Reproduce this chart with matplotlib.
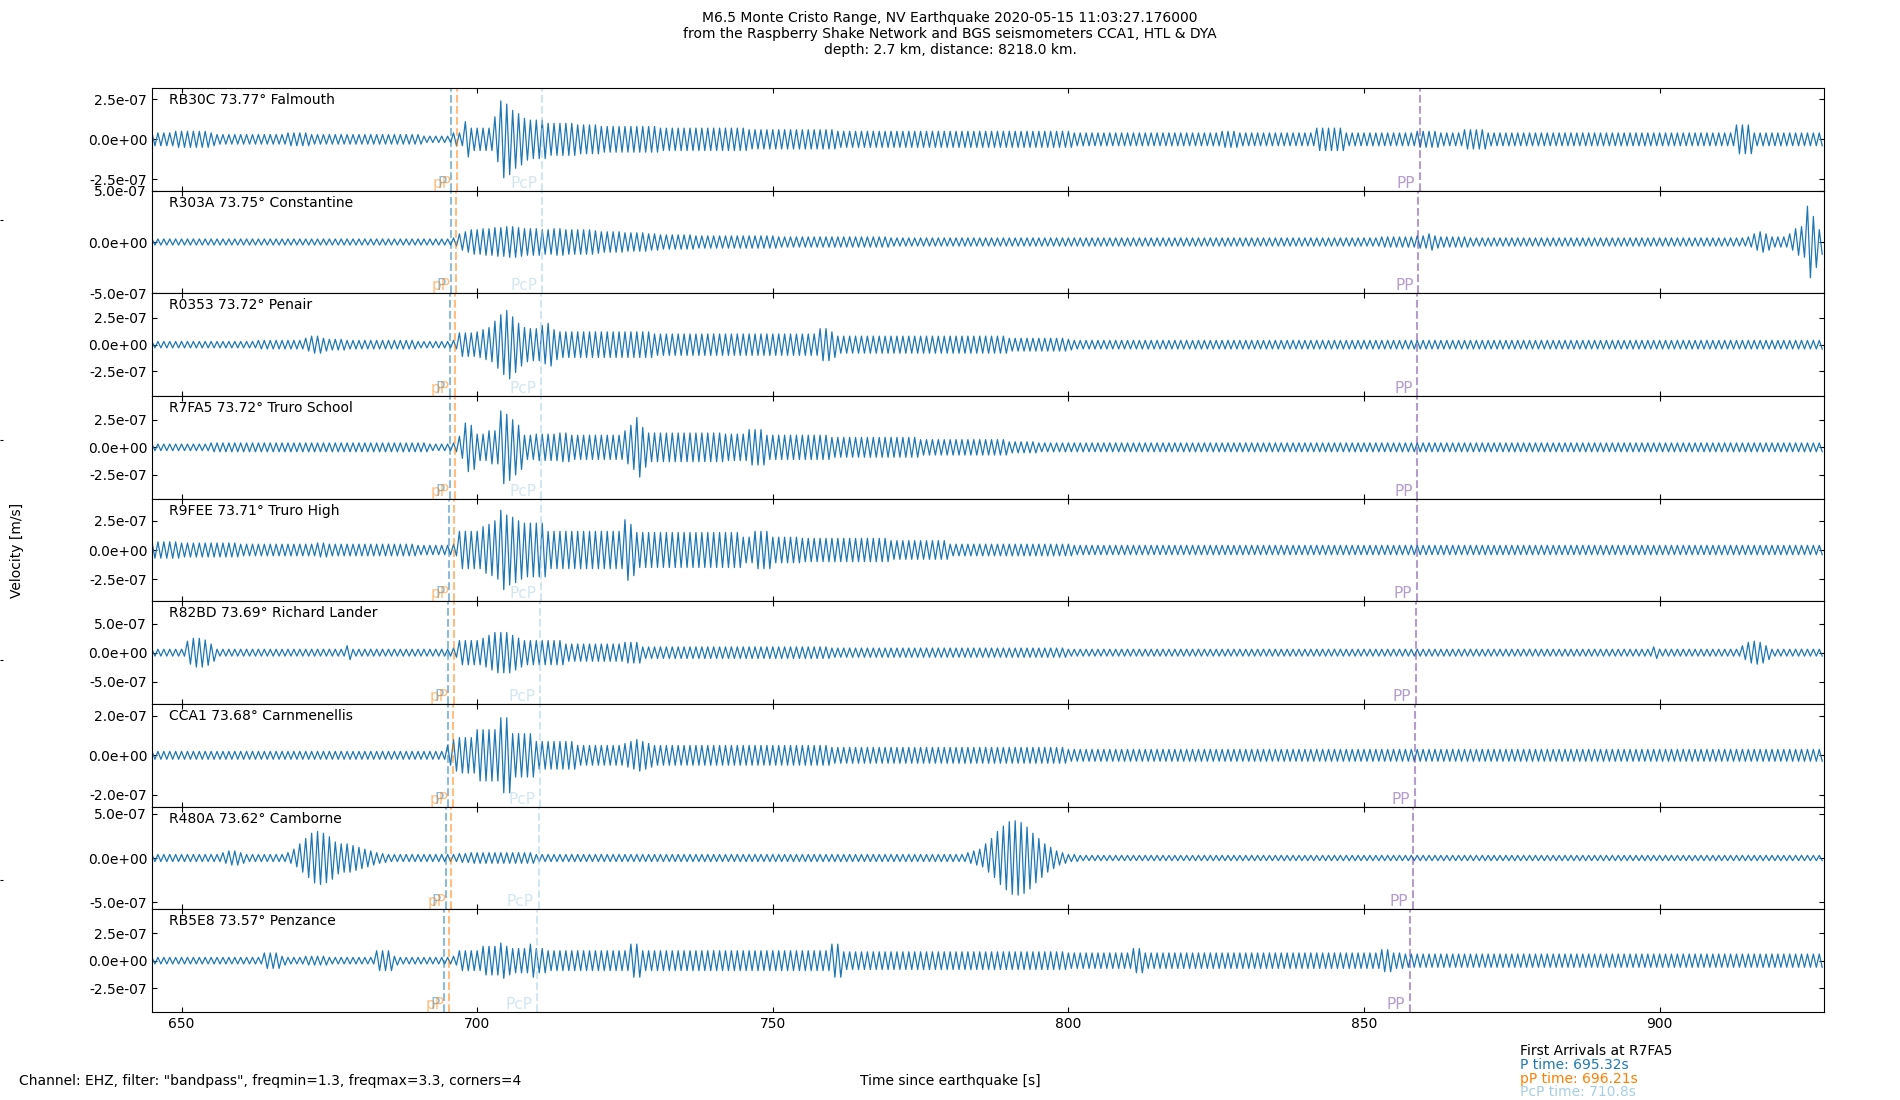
import numpy as np
import matplotlib
matplotlib.use("Agg")
import matplotlib.pyplot as plt
from matplotlib.ticker import FormatStrFormatter

plt.rcParams.update({'font.size': 10,
                     'xtick.direction': 'in',
                     'ytick.direction': 'in'})

# stations, top to bottom
stations = ['RB30C', 'R303A', 'R0353', 'R7FA5', 'R9FEE', 'R82BD', 'CCA1', 'R480A', 'RB5E8']
distances = [73.77, 73.75, 73.72, 73.72, 73.71, 73.69, 73.68, 73.62, 73.57]
places = ['Falmouth', 'Constantine', 'Penair', 'Truro School', 'Truro High',
          'Richard Lander', 'Carnmenellis', 'Camborne', 'Penzance']

# arrival times [s since origin] per station
p_times = [695.62, 695.50, 695.32, 695.32, 695.26, 695.14, 695.08, 694.72, 694.42]
pP_times = [696.51, 696.39, 696.21, 696.21, 696.15, 696.03, 695.97, 695.61, 695.31]
pcp_times = [711.0, 710.92, 710.8, 710.8, 710.76, 710.68, 710.64, 710.4, 710.2]
pp_times = [859.4, 859.2, 859.0, 859.0, 858.9, 858.75, 858.65, 858.2, 857.75]

# y ranges and ticks of each panel [m/s]
ylims = [3.2e-7, 5.02e-7, 4.8e-7, 4.65e-7, 4.4e-7, 8.9e-7, 2.6e-7, 5.8e-7, 4.65e-7]
ytick_steps = [2.5e-7, 5e-7, 2.5e-7, 2.5e-7, 2.5e-7, 5e-7, 2e-7, 5e-7, 2.5e-7]

# filtered traces, read off as max |amplitude| per 1 s bin, units 1e-8 m/s
# first bin starts at T0
T0 = 645
env_RB30C = [
    4, 4, 4, 4, 5, 5, 5, 5, 5, 5, 4, 3, 3, 3, 3, 3, 3, 3, 3, 3,
    3, 3, 3, 4, 4, 4, 4, 3, 3, 3, 3, 3, 3, 3, 3, 3, 3, 3, 3, 3,
    3, 3, 3, 3, 3, 3, 2, 2, 2, 2, 2, 4, 4, 11, 7, 7, 7, 7, 14, 24,
    22, 18, 16, 13, 12, 12, 12, 10, 10, 10, 10, 10, 9, 9, 9, 9, 8, 8, 8, 8,
    8, 8, 8, 8, 8, 8, 7, 7, 7, 7, 7, 7, 7, 7, 7, 7, 7, 7, 7, 7,
    7, 6, 6, 6, 6, 6, 6, 6, 6, 6, 6, 6, 6, 6, 6, 6, 5, 5, 5, 5,
    5, 5, 5, 5, 5, 5, 5, 5, 5, 5, 5, 5, 5, 5, 5, 5, 5, 5, 5, 5,
    5, 5, 5, 5, 5, 5, 5, 5, 5, 5, 5, 5, 5, 5, 5, 5, 4, 4, 4, 4,
    4, 4, 4, 4, 4, 4, 4, 4, 4, 4, 4, 4, 4, 4, 4, 4, 4, 4, 4, 4,
    4, 5, 5, 5, 4, 4, 4, 4, 4, 4, 4, 4, 4, 4, 4, 4, 4, 7, 7, 7,
    7, 7, 4, 4, 4, 4, 4, 4, 4, 4, 4, 4, 4, 4, 5, 5, 5, 5, 4, 4,
    4, 4, 6, 6, 6, 6, 4, 4, 4, 4, 4, 4, 4, 4, 4, 4, 4, 4, 4, 4,
    4, 4, 4, 4, 4, 4, 4, 4, 4, 4, 4, 4, 4, 4, 4, 4, 4, 4, 4, 4,
    4, 4, 4, 4, 4, 4, 4, 4, 9, 9, 9, 4, 4, 4, 4, 4, 4, 4, 4, 4,
    4, 4, 4]
env_R303A = [
    3, 3, 3, 3, 3, 3, 3, 3, 3, 3, 3, 3, 3, 3, 3, 3, 3, 3, 3, 3,
    3, 3, 3, 3, 3, 3, 3, 3, 3, 3, 3, 3, 3, 3, 3, 3, 3, 3, 3, 3,
    3, 3, 3, 3, 3, 3, 3, 3, 3, 3, 3, 4, 8, 10, 12, 12, 13, 13, 14, 14,
    15, 15, 14, 13, 13, 13, 12, 12, 13, 13, 12, 12, 12, 12, 12, 11, 10, 10, 10, 10,
    9, 9, 9, 9, 8, 8, 7, 7, 7, 7, 7, 7, 6, 6, 6, 6, 6, 6, 6, 6,
    6, 6, 6, 6, 6, 6, 5, 5, 5, 5, 5, 5, 5, 5, 5, 5, 5, 5, 5, 5,
    5, 5, 5, 5, 5, 4, 4, 4, 4, 4, 4, 4, 4, 4, 4, 4, 4, 4, 4, 4,
    4, 4, 4, 4, 4, 4, 4, 4, 4, 4, 4, 4, 4, 4, 4, 4, 4, 4, 4, 4,
    4, 4, 4, 4, 4, 4, 4, 4, 4, 4, 4, 4, 4, 4, 4, 4, 4, 4, 4, 4,
    4, 4, 4, 4, 4, 4, 4, 4, 4, 4, 4, 4, 4, 4, 4, 4, 4, 4, 4, 4,
    4, 4, 4, 4, 4, 4, 4, 4, 5, 5, 5, 5, 5, 5, 6, 6, 8, 6, 5, 5,
    5, 5, 5, 4, 4, 4, 4, 4, 4, 4, 4, 4, 4, 4, 4, 4, 4, 4, 4, 4,
    4, 4, 4, 4, 4, 4, 4, 4, 4, 4, 4, 4, 4, 4, 4, 4, 4, 4, 4, 4,
    4, 4, 4, 4, 4, 4, 4, 4, 4, 4, 5, 8, 10, 8, 5, 5, 5, 8, 13, 15,
    35, 25, 12]
env_R0353 = [
    3, 3, 3, 3, 3, 3, 3, 3, 3, 3, 3, 3, 3, 3, 3, 3, 3, 3, 4, 4,
    4, 4, 4, 4, 4, 4, 6, 8, 8, 6, 5, 5, 5, 4, 4, 4, 4, 4, 4, 4,
    4, 4, 4, 4, 4, 3, 3, 3, 3, 3, 3, 4, 11, 11, 11, 12, 14, 16, 22, 28,
    32, 26, 20, 16, 15, 15, 18, 20, 14, 12, 12, 12, 12, 12, 12, 12, 12, 12, 12, 12,
    12, 12, 12, 12, 12, 10, 10, 10, 10, 10, 10, 10, 10, 10, 10, 10, 10, 10, 10, 10,
    10, 10, 10, 10, 10, 10, 10, 10, 10, 10, 10, 10, 10, 15, 15, 12, 8, 8, 8, 8,
    8, 8, 8, 8, 8, 8, 8, 8, 8, 8, 8, 8, 8, 8, 8, 8, 8, 8, 8, 8,
    8, 8, 8, 8, 8, 6, 6, 6, 6, 6, 6, 6, 6, 6, 6, 5, 4, 4, 4, 4,
    4, 4, 4, 4, 4, 4, 4, 4, 4, 4, 4, 4, 4, 4, 4, 4, 4, 4, 4, 4,
    4, 4, 4, 4, 4, 4, 4, 4, 4, 4, 4, 4, 4, 4, 4, 4, 4, 4, 4, 4,
    4, 4, 4, 4, 4, 4, 4, 4, 4, 4, 4, 4, 4, 4, 4, 4, 4, 4, 4, 4,
    4, 4, 4, 4, 4, 4, 4, 4, 4, 4, 4, 4, 4, 4, 4, 4, 4, 4, 4, 4,
    4, 4, 4, 4, 4, 4, 4, 4, 4, 4, 4, 4, 4, 4, 4, 4, 4, 4, 4, 4,
    4, 4, 4, 4, 4, 4, 4, 4, 4, 4, 4, 4, 4, 4, 4, 4, 4, 4, 4, 4,
    4, 4, 4]
env_R7FA5 = [
    3, 3, 3, 3, 3, 3, 3, 3, 3, 3, 4, 4, 4, 4, 4, 4, 4, 4, 4, 4,
    4, 4, 4, 4, 4, 4, 4, 4, 4, 4, 4, 4, 4, 4, 4, 4, 4, 4, 4, 4,
    4, 4, 4, 4, 4, 4, 4, 3, 3, 3, 3, 4, 10, 22, 20, 12, 12, 15, 15, 33,
    30, 25, 20, 11, 11, 12, 12, 12, 12, 13, 13, 11, 11, 11, 11, 11, 11, 11, 11, 11,
    15, 20, 27, 18, 13, 13, 13, 13, 13, 13, 13, 13, 13, 13, 13, 13, 13, 12, 12, 12,
    12, 16, 16, 16, 11, 11, 11, 11, 11, 11, 11, 11, 11, 11, 11, 9, 9, 9, 9, 9,
    9, 9, 9, 9, 9, 9, 9, 9, 9, 9, 7, 7, 7, 7, 7, 7, 7, 7, 7, 7,
    7, 7, 7, 7, 7, 5, 5, 5, 5, 5, 4, 4, 4, 4, 4, 4, 4, 4, 4, 4,
    4, 4, 4, 4, 4, 4, 4, 4, 4, 4, 4, 4, 4, 4, 4, 4, 4, 4, 4, 4,
    4, 4, 4, 4, 4, 4, 4, 4, 4, 4, 4, 4, 4, 4, 4, 4, 4, 4, 4, 4,
    4, 4, 4, 4, 4, 4, 4, 4, 4, 4, 4, 4, 4, 4, 4, 4, 4, 4, 4, 4,
    4, 4, 4, 4, 4, 4, 4, 4, 4, 4, 4, 4, 4, 4, 4, 4, 4, 4, 4, 4,
    4, 4, 4, 4, 4, 4, 4, 4, 4, 4, 4, 4, 4, 4, 4, 4, 4, 4, 4, 4,
    4, 4, 4, 4, 4, 4, 4, 4, 4, 4, 4, 4, 4, 4, 4, 4, 4, 4, 4, 4,
    4, 4, 4]
env_R9FEE = [
    7, 7, 7, 7, 7, 6, 6, 6, 6, 6, 6, 6, 6, 6, 6, 5, 5, 5, 5, 5,
    5, 5, 5, 5, 5, 5, 5, 5, 6, 6, 5, 5, 5, 5, 5, 5, 5, 5, 5, 5,
    5, 5, 5, 5, 5, 4, 4, 4, 4, 4, 4, 5, 16, 16, 16, 16, 20, 22, 25, 34,
    30, 28, 25, 23, 23, 23, 23, 16, 16, 16, 16, 16, 16, 16, 16, 16, 16, 16, 16, 16,
    26, 22, 15, 15, 15, 15, 15, 15, 15, 15, 15, 15, 15, 15, 15, 15, 15, 15, 15, 15,
    11, 11, 16, 16, 16, 11, 11, 11, 11, 11, 10, 10, 10, 10, 10, 10, 10, 10, 10, 10,
    10, 10, 10, 10, 10, 8, 8, 8, 8, 8, 8, 8, 8, 8, 8, 5, 5, 5, 5, 5,
    5, 5, 5, 5, 5, 5, 5, 5, 5, 5, 5, 5, 5, 5, 5, 5, 4, 4, 4, 4,
    4, 4, 4, 4, 4, 4, 4, 4, 4, 4, 4, 4, 4, 4, 4, 4, 4, 4, 4, 4,
    4, 4, 4, 4, 4, 4, 4, 4, 4, 4, 4, 4, 4, 4, 4, 4, 4, 4, 4, 4,
    4, 4, 4, 4, 4, 4, 4, 4, 4, 4, 4, 4, 4, 4, 4, 4, 4, 4, 4, 4,
    4, 4, 4, 4, 4, 4, 4, 4, 4, 4, 4, 4, 4, 4, 4, 4, 4, 4, 4, 4,
    4, 4, 4, 4, 4, 4, 4, 4, 4, 4, 4, 4, 4, 4, 4, 4, 4, 4, 4, 4,
    4, 4, 4, 4, 4, 4, 4, 4, 4, 4, 4, 4, 4, 4, 4, 4, 4, 4, 4, 4,
    4, 4, 4]
env_R82BD = [
    6, 6, 6, 6, 6, 6, 20, 25, 25, 22, 15, 6, 6, 6, 6, 6, 6, 6, 6, 6,
    6, 6, 6, 6, 6, 6, 6, 6, 6, 6, 6, 6, 6, 12, 6, 6, 6, 6, 6, 6,
    6, 6, 6, 6, 6, 6, 6, 6, 6, 6, 6, 8, 21, 21, 21, 21, 25, 30, 35, 35,
    35, 30, 25, 21, 21, 21, 21, 21, 21, 21, 15, 15, 15, 15, 15, 15, 15, 15, 15, 15,
    18, 18, 18, 10, 10, 10, 10, 10, 10, 10, 10, 10, 10, 10, 10, 10, 10, 10, 10, 10,
    10, 10, 10, 10, 10, 10, 10, 10, 10, 10, 10, 10, 10, 10, 10, 8, 8, 8, 8, 8,
    8, 8, 8, 8, 8, 8, 8, 8, 8, 8, 8, 8, 8, 8, 8, 8, 8, 8, 8, 8,
    8, 8, 8, 8, 8, 8, 8, 8, 8, 8, 8, 8, 8, 8, 8, 6, 6, 6, 6, 6,
    6, 6, 6, 6, 6, 6, 6, 6, 6, 6, 6, 6, 6, 6, 6, 6, 6, 6, 6, 6,
    6, 6, 6, 6, 6, 6, 6, 6, 6, 6, 6, 6, 6, 6, 6, 6, 6, 6, 6, 6,
    6, 6, 6, 6, 6, 6, 6, 6, 6, 6, 6, 6, 6, 6, 6, 6, 6, 6, 6, 6,
    6, 6, 6, 6, 6, 6, 6, 6, 6, 6, 6, 6, 6, 6, 6, 6, 6, 6, 6, 6,
    6, 6, 6, 6, 6, 6, 6, 6, 6, 6, 6, 6, 6, 6, 10, 6, 6, 6, 6, 6,
    6, 6, 6, 6, 6, 6, 6, 6, 6, 12, 18, 20, 18, 12, 6, 6, 6, 6, 6, 6,
    6, 6, 6]
env_CCA1 = [
    2, 2, 2, 2, 2, 2, 2, 2, 2, 2, 2, 2, 2, 2, 2, 2, 2, 2, 2, 2,
    2, 2, 2, 2, 2, 2, 2, 2, 2, 2, 2, 2, 2, 2, 2, 2, 2, 2, 2, 2,
    2, 2, 2, 2, 2, 2, 2, 2, 2, 2, 5, 8, 9, 9, 9, 13, 13, 13, 13, 19,
    19, 11, 11, 11, 11, 7, 7, 7, 7, 7, 7, 7, 5, 5, 5, 5, 5, 5, 5, 5,
    6, 7, 8, 7, 6, 5, 5, 5, 5, 5, 5, 5, 5, 5, 5, 5, 5, 5, 5, 5,
    5, 5, 5, 5, 5, 5, 5, 5, 5, 5, 5, 5, 5, 5, 5, 4, 4, 4, 4, 4,
    4, 4, 4, 4, 4, 4, 4, 4, 4, 4, 4, 4, 4, 4, 4, 4, 4, 4, 4, 4,
    4, 4, 4, 4, 4, 4, 4, 4, 4, 4, 4, 4, 4, 4, 4, 3, 3, 3, 3, 3,
    3, 3, 3, 3, 3, 3, 3, 3, 3, 3, 3, 3, 3, 3, 3, 3, 3, 3, 3, 3,
    3, 3, 3, 3, 3, 3, 3, 3, 3, 3, 3, 3, 3, 3, 3, 3, 3, 3, 3, 3,
    3, 3, 3, 3, 3, 3, 3, 3, 3, 3, 3, 3, 3, 3, 3, 3, 3, 3, 3, 3,
    3, 3, 3, 3, 3, 3, 3, 3, 3, 3, 3, 3, 3, 3, 3, 3, 3, 3, 3, 3,
    3, 3, 3, 3, 3, 3, 3, 3, 3, 3, 3, 3, 3, 3, 3, 3, 3, 3, 3, 3,
    3, 3, 3, 3, 3, 3, 3, 3, 3, 3, 3, 3, 3, 3, 3, 3, 3, 3, 3, 3,
    3, 3, 3]
env_R480A = [
    4, 4, 4, 4, 4, 4, 4, 4, 4, 4, 4, 4, 6, 8, 8, 6, 4, 4, 4, 4,
    4, 4, 4, 6, 10, 16, 22, 28, 30, 28, 24, 18, 16, 16, 14, 12, 10, 8, 6, 5,
    4, 4, 4, 4, 4, 4, 4, 4, 4, 4, 4, 4, 5, 5, 6, 6, 6, 6, 6, 6,
    6, 6, 6, 6, 6, 4, 4, 4, 4, 4, 4, 4, 4, 4, 4, 4, 4, 4, 4, 4,
    4, 4, 4, 4, 4, 4, 4, 4, 4, 4, 4, 4, 4, 4, 4, 4, 4, 4, 4, 4,
    4, 4, 4, 4, 4, 4, 4, 4, 4, 4, 4, 4, 4, 4, 4, 4, 4, 4, 4, 4,
    4, 4, 4, 4, 4, 4, 4, 4, 4, 4, 4, 4, 4, 4, 4, 4, 4, 4, 6, 8,
    10, 16, 22, 30, 36, 41, 42, 40, 35, 28, 22, 16, 12, 8, 6, 4, 4, 3, 3, 3,
    3, 3, 3, 3, 3, 3, 3, 3, 3, 3, 3, 3, 3, 3, 3, 3, 3, 3, 3, 3,
    3, 3, 3, 3, 3, 3, 3, 3, 3, 3, 3, 3, 3, 3, 3, 3, 3, 3, 3, 3,
    3, 3, 3, 3, 3, 3, 3, 3, 3, 3, 3, 3, 3, 3, 3, 3, 3, 3, 3, 3,
    3, 3, 3, 3, 3, 3, 3, 3, 3, 3, 3, 3, 3, 3, 3, 3, 3, 3, 3, 3,
    3, 3, 3, 3, 3, 3, 3, 3, 3, 3, 3, 3, 3, 3, 3, 3, 3, 3, 3, 3,
    3, 3, 3, 3, 3, 3, 3, 3, 3, 3, 3, 3, 3, 3, 3, 3, 3, 3, 3, 3,
    3, 3, 3]
env_RB5E8 = [
    3, 3, 3, 3, 3, 3, 3, 3, 3, 3, 3, 3, 3, 3, 3, 3, 3, 3, 3, 7,
    7, 7, 4, 3, 3, 3, 4, 4, 4, 4, 3, 3, 3, 3, 3, 3, 3, 3, 9, 9,
    9, 4, 3, 3, 3, 3, 3, 3, 3, 3, 3, 4, 9, 9, 9, 9, 13, 13, 13, 16,
    13, 11, 11, 11, 15, 11, 11, 9, 9, 9, 9, 9, 9, 9, 9, 9, 9, 9, 9, 9,
    9, 15, 15, 9, 9, 9, 9, 9, 9, 9, 9, 9, 9, 9, 9, 9, 9, 9, 9, 9,
    9, 9, 9, 9, 9, 9, 9, 9, 9, 9, 9, 9, 9, 9, 9, 15, 15, 8, 8, 8,
    8, 8, 8, 8, 8, 8, 8, 8, 8, 8, 8, 8, 8, 8, 8, 8, 8, 8, 8, 8,
    8, 8, 8, 8, 8, 8, 8, 8, 8, 8, 8, 8, 8, 8, 8, 7, 7, 7, 7, 7,
    7, 7, 7, 7, 7, 7, 11, 11, 7, 7, 7, 7, 7, 7, 7, 7, 7, 7, 7, 7,
    7, 7, 7, 7, 7, 7, 7, 7, 7, 7, 7, 7, 7, 7, 7, 7, 7, 7, 7, 7,
    7, 7, 7, 7, 7, 7, 7, 7, 10, 10, 7, 7, 6, 6, 6, 6, 6, 6, 6, 6,
    6, 6, 6, 6, 6, 6, 6, 6, 6, 6, 6, 6, 6, 6, 6, 6, 6, 6, 6, 6,
    6, 6, 6, 6, 6, 6, 6, 6, 6, 6, 6, 6, 6, 6, 6, 6, 6, 6, 6, 6,
    6, 6, 6, 6, 6, 6, 6, 6, 6, 6, 6, 6, 6, 6, 6, 6, 6, 6, 6, 6,
    6, 6, 6]
envelopes = [env_RB30C, env_R303A, env_R0353, env_R7FA5, env_R9FEE,
             env_R82BD, env_CCA1, env_R480A, env_RB5E8]

phases = [('P', p_times, '#1f78b4'),
          ('pP', pP_times, '#ff7f00'),
          ('PcP', pcp_times, '#a6cee3'),
          ('PP', pp_times, '#6a3d9a')]

fig = plt.figure(figsize=(19, 11), dpi=100)

# whole-figure helper axis (only its small tick marks show)
bg = fig.add_axes([0, 0, 1, 1], frameon=False)
bg.set_xticks([])
bg.set_yticks([0.2, 0.4, 0.6, 0.8])
bg.set_yticklabels([])
bg.tick_params(length=2)

axs = fig.subplots(len(stations), 1, sharex=True)
fig.subplots_adjust(left=0.08, right=0.96, top=0.92, bottom=0.08, hspace=0)

for i, ax in enumerate(axs):
    env = np.array(envelopes[i], dtype=float) * 1e-8
    t = T0 + np.arange(len(env))
    # min/max per bin drawn as a zigzag
    tz = np.column_stack([t, t + 0.5]).ravel()
    yz = np.column_stack([env, -env]).ravel()
    ax.plot(tz, yz, color='#1f77b4', lw=0.9)

    for name, times, col in phases:
        ax.axvline(times[i], color=col, ls='--', lw=1.5, alpha=0.5)
        ax.text(times[i] - 0.8, 0, name, color=col, alpha=0.5, ha='right', va='bottom',
                fontsize=11, transform=ax.get_xaxis_transform())

    ax.text(0.01, 0.95, f'{stations[i]} {distances[i]}° {places[i]}',
            ha='left', va='top', transform=ax.transAxes)
    ax.set_ylim(-ylims[i], ylims[i])
    ax.set_yticks([-ytick_steps[i], 0, ytick_steps[i]])
    ax.yaxis.set_major_formatter(FormatStrFormatter('%.1e'))
    ax.tick_params(top=True, right=True)

axs[-1].set_xlim(645.0, 927.8)

fig.text(0.5, 0.99, 'M6.5 Monte Cristo Range, NV Earthquake 2020-05-15 11:03:27.176000\n'
         'from the Raspberry Shake Network and BGS seismometers CCA1, HTL & DYA\n'
         'depth: 2.7 km, distance: 8218.0 km.', ha='center', va='top')
fig.text(0.009, 0.5, 'Velocity [m/s]', rotation=90, ha='center', va='center')
fig.text(0.5, 0.0173, 'Time since earthquake [s]', ha='center', va='center')
fig.text(0.0102, 0.0173, 'Channel: EHZ, filter: "bandpass", freqmin=1.3, freqmax=3.3, corners=4',
         ha='left', va='center')

# first arrivals at the reference station
ref = stations.index('R7FA5')
fig.text(0.8, 0.0445, 'First Arrivals at R7FA5', va='center')
fig.text(0.8, 0.032, f'P time: {p_times[ref]}s', color=phases[0][2], va='center')
fig.text(0.8, 0.0195, f'pP time: {pP_times[ref]}s', color=phases[1][2], va='center')
fig.text(0.8, 0.007, f'PcP time: {pcp_times[ref]}s', color=phases[2][2], va='center')

plt.savefig('out.png', dpi=100)
